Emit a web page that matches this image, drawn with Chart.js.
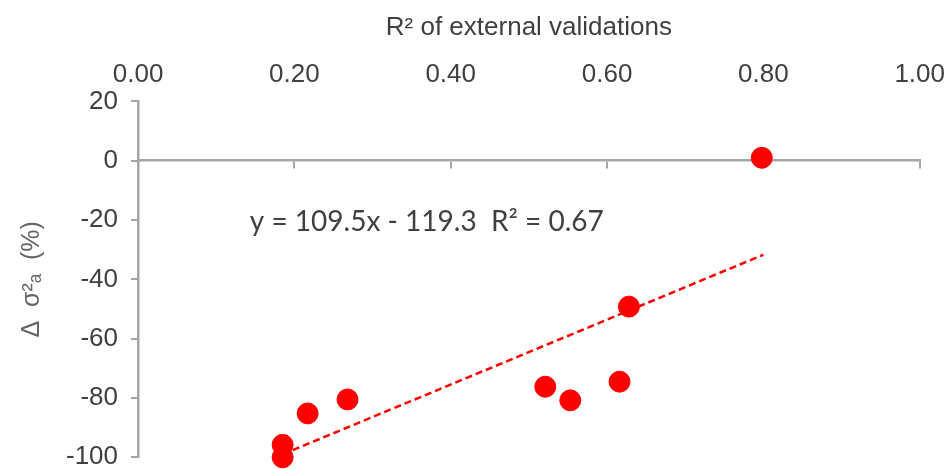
<!DOCTYPE html>
<html>
<head>
<meta charset="utf-8">
<script src="https://cdn.jsdelivr.net/npm/chart.js@4"></script>
<style>
  body { margin: 0; background: #fff; }
  #wrap { width: 948px; height: 469px; }
</style>
</head>
<body>
<div id="wrap"><canvas id="scatterChart" width="948" height="469"></canvas></div>
<script>
// data
const r2Values = [0.185, 0.185, 0.217, 0.268, 0.521, 0.553, 0.616, 0.628, 0.798];
const deltaValues = [-100, -95.8, -85.2, -80.5, -76.2, -80.8, -74.5, -49.2, 1];
const trendX = [0.185, 0.80];
const trendY = [-99.0, -31.7];
const equationText = "y = 109.5x - 119.3  R\u00b2 = 0.67";

const points = r2Values.map((v, i) => ({ x: v, y: deltaValues[i] }));
const trendPoints = trendX.map((v, i) => ({ x: v, y: trendY[i] }));

const axisGrey = "#a6a6a6";
const textGrey = "#404040";
const sans = "'Liberation Sans', Arial, sans-serif";

// text of the trendline equation, placed through the scales
const equationPlugin = {
    id: "equation",
    afterDatasetsDraw(chart) {
        const ctx = chart.ctx;
        const px = chart.scales.x.getPixelForValue(0.143);
        const py = chart.scales.y.getPixelForValue(-20.5);
        ctx.save();
        ctx.font = "28px Lato, 'Open Sans', sans-serif";
        ctx.fillStyle = textGrey;
        ctx.textAlign = "left";
        ctx.textBaseline = "middle";
        ctx.fillText(equationText, px, py);
        ctx.restore();
    }
};

const chart = new Chart(document.getElementById("scatterChart"), {
    type: "scatter",
    data: {
        datasets: [
            {
                label: "Trend",
                type: "line",
                data: trendPoints,
                borderColor: "#ff0000",
                borderWidth: 2.5,
                borderDash: [7, 4],
                pointRadius: 0,
                fill: false,
                clip: false,
                xAxisID: "x",
                yAxisID: "y",
            },
            {
                label: "Validations",
                data: points,
                backgroundColor: "#ff0000",
                borderColor: "#ff0000",
                pointRadius: 10.5,
                clip: false,
                xAxisID: "x",
                yAxisID: "y",
            },
        ],
    },
    options: {
        responsive: false,
        animation: false,
        layout: {
            padding: { top: 12, right: 0, bottom: 0, left: 16 },
        },
        plugins: {
            legend: { display: false },
            tooltip: { enabled: false },
        },
        scales: {
            x: {
                type: "linear",
                position: "top",
                min: 0,
                max: 1,
                border: { display: false },
                grid: { display: false },
                ticks: {
                    stepSize: 0.2,
                    padding: 3,
                    color: textGrey,
                    font: { family: sans, size: 26 },
                    callback: (v) => v.toFixed(2),
                },
                title: {
                    display: true,
                    text: "R\u00b2 of external validations",
                    color: textGrey,
                    padding: { top: 0, bottom: 13 },
                    font: { family: sans, size: 26 },
                },
            },
            x0: {
                type: "linear",
                position: { y: 0 },
                min: 0,
                max: 1,
                border: { display: true, color: axisGrey, width: 2.5 },
                grid: { drawOnChartArea: false, color: axisGrey, lineWidth: 2, tickLength: 7 },
                ticks: { display: false, stepSize: 0.2 },
            },
            y: {
                type: "linear",
                min: -100,
                max: 20,
                border: { display: true, color: axisGrey, width: 2.5 },
                // long tick, only the last 7px next to the axis is drawn
                grid: {
                    drawOnChartArea: false,
                    color: axisGrey,
                    lineWidth: 2,
                    tickLength: 20,
                    tickBorderDash: [7, 13],
                    tickBorderDashOffset: 7,
                },
                ticks: {
                    stepSize: 20,
                    padding: 0,
                    color: textGrey,
                    font: { family: sans, size: 26, lineHeight: 0.9 },
                },
                title: {
                    display: true,
                    text: "\u0394  \u03c3\u00b2\u2090  (%)",
                    color: "#666666",
                    padding: { top: 1, bottom: 19 },
                    font: { family: sans, size: 25 },
                },
            },
        },
    },
    plugins: [equationPlugin],
});
</script>
</body>
</html>
